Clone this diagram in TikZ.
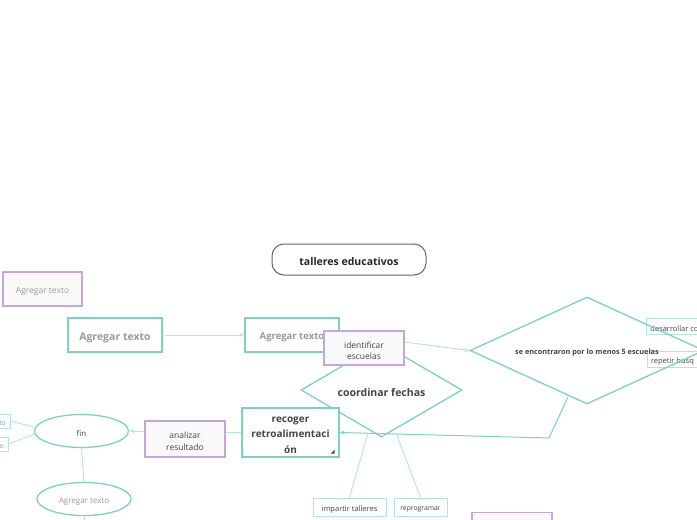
\documentclass[tikz,border=0pt]{standalone}
\usepackage{fontspec}
\setmainfont{Open Sans}
\usetikzlibrary{shapes.geometric,arrows.meta}
\definecolor{teal1}{HTML}{7FD0C3}
\definecolor{teal2}{HTML}{B4E6DE}
\definecolor{purp}{HTML}{C6A7D9}
\definecolor{txtd}{HTML}{444444}
\definecolor{txtg}{HTML}{9A9A9A}
\definecolor{boxfill}{HTML}{F9F9F9}
\newcommand{\lowr}[1]{\raisebox{-2.5pt}[\height][\depth]{#1}}
\tikzset{
  tealbox/.style={draw=teal1,line width=1.4pt,fill=white,inner sep=0pt,align=center},
  purpbox/.style={draw=purp,line width=1.2pt,fill=boxfill,inner sep=0pt,align=center,text=txtd},
  smallbox/.style={draw=teal2,line width=0.9pt,fill=white,inner sep=0pt,align=center,text=txtd,font=\fontsize{7.5}{9}\selectfont},
  lbl/.style={inner sep=0pt,align=center},
  conn/.style={draw=teal2,line width=0.9pt},
  connd/.style={draw=teal1,line width=1pt},
  arr/.style={-{Stealth[length=5pt,width=4pt]}},
}
\begin{document}
\begin{tikzpicture}[x=1pt,y=-1pt]
\useasboundingbox (0,0) rectangle (697,520);
\clip (0,0) rectangle (697,520);
\fill[white] (0,0) rectangle (697,520);

% title
\node[draw=black!60,line width=1pt,rounded corners=12pt,minimum width=154pt,minimum height=31pt,inner sep=0pt,
  font=\bfseries\fontsize{10.5}{12}\selectfont,text=black!85] (title) at (349,259.5) {\lowr{talleres educativos}};

% top-left purple box
\node[purpbox,minimum width=79pt,minimum height=34pt,text=txtg,font=\fontsize{8.5}{10}\selectfont] (ag0) at (42.5,289) {\lowr{Agregar texto}};

% agregar boxes
\node[tealbox,minimum width=94pt,minimum height=34pt,text=txtg,font=\bfseries\fontsize{10.5}{12}\selectfont] (ag1) at (115,335) {\lowr{Agregar texto}};
\node[tealbox,minimum width=94pt,minimum height=34pt,text=txtg,font=\fontsize{9.5}{11}\selectfont\bfseries] (ag2) at (292,335) {\lowr{Agregar texto}};
\draw[conn,arr] (ag1.east) ++(2pt,0) -- (ag2.west);

% coordinar fechas diamond
\node[diamond,draw=teal1,line width=1.3pt,minimum width=161pt,minimum height=94pt,inner sep=0pt,aspect=1.7,
  font=\bfseries\fontsize{10.5}{12}\selectfont,text=txtd] (coord) at (381.5,390) {\lowr{coordinar fechas}};

% identificar escuelas
\node[purpbox,minimum width=80pt,minimum height=34pt] (ident) at (364,348) {};
\node[lbl,text=txtd,font=\fontsize{8.5}{11}\selectfont,yshift=-2.5pt] (identl) at (ident.center) {identificar\\escuelas};

% side boxes on the right
\node[smallbox,minimum width=80pt,minimum height=16pt,anchor=west] (desa) at (646,326) {\lowr{\hspace*{-24pt}desarrollar co}};
\node[smallbox,minimum width=80pt,minimum height=16pt,anchor=west] (repe) at (647,359) {\lowr{\hspace*{-30pt}repetir busq}};

% big diamond
\node[diamond,draw=teal1,line width=1.3pt,minimum width=234pt,minimum height=107pt,inner sep=0pt,aspect=2.2,
  font=\fontsize{7.3}{8}\selectfont\bfseries,text=txtd] (big) at (587,350.5) {\lowr{se encontraron por lo menos 5 escuelas}};

\draw[conn,arr] (ident.east) ++(0,-6) -- (big.west);

% recoger retroalimentacion
\node[tealbox,minimum width=97pt,minimum height=49pt] (recog) at (290.5,432.5) {};
\node[lbl,text=txtd,font=\bfseries\fontsize{10}{15.5}\selectfont,yshift=-2.5pt] (recogl) at (recog.center) {recoger\\retroalimentaci\\ón};
\fill[txtd] ([shift={(-5,-4)}]recog.south east) -- ++(0,-4) -- ++(-4,4) -- cycle;

\coordinate (bend) at (549,438);
\draw[connd,arr] (568,397) -- (bend) -- (recog.east);

% impartir / reprogramar
\node[smallbox,minimum width=73pt,minimum height=18pt] (impar) at (349.5,507) {\lowr{impartir talleres}};
\node[smallbox,minimum width=53pt,minimum height=18pt,font=\fontsize{6.8}{8}\selectfont] (repro) at (420.5,507) {\lowr{reprogramar}};
\draw[conn] (368,433) -- (impar.north);
\draw[conn] (396,433) -- (repro.north);

% bottom purple box
\node[purpbox,minimum width=80pt,minimum height=30pt,anchor=north] (botp) at (512,512) {};

% analizar resultado
\node[purpbox,minimum width=80pt,minimum height=36pt] (anal) at (185,439) {};
\node[lbl,text=txtd,font=\fontsize{8.5}{11.5}\selectfont,yshift=-2.5pt] (anall) at (anal.center) {analizar\\resultado};
\draw[conn] (recog.west) -- (recog.west -| anal.east);

% fin ellipse
\node[ellipse,draw=teal1,line width=1.3pt,minimum width=94pt,minimum height=33pt,inner sep=0pt,fill=white,
  font=\fontsize{8}{10}\selectfont,text=txtd] (fin) at (81.5,431) {\lowr{fin}};
\draw[conn,arr] (anal.west |- fin.east) -- (fin.east);

% left clipped boxes
\node[smallbox,minimum width=52pt,minimum height=14pt,text=txtg,font=\fontsize{7}{8}\selectfont] (lb1) at (-16,421) {\lowr{Agregar texto}};
\node[smallbox,minimum width=52pt,minimum height=14pt,text=txtg,font=\fontsize{7}{8}\selectfont] (lb2) at (-18,444) {\lowr{Agregar texto}};
\draw[conn] (fin.west) ++(0,-4) -- (lb1.east);
\draw[conn] (fin.west) ++(1,3) -- (lb2.east);

% agregar texto ellipse
\node[ellipse,draw=teal1,line width=1.3pt,minimum width=94pt,minimum height=33pt,inner sep=0pt,fill=white,
  font=\fontsize{8}{10}\selectfont,text=txtg] (ag3) at (84,499) {\lowr{Agregar texto}};
\draw[conn] (fin.south) -- (ag3.north);
\coordinate (below) at (86,530);
\draw[conn] (ag3.south) -- (below);
\end{tikzpicture}
\end{document}
